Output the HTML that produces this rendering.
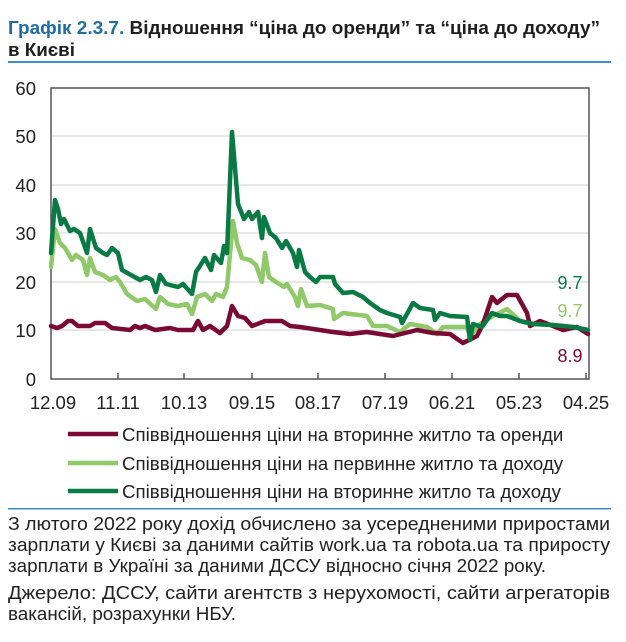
<!DOCTYPE html>
<html><head><meta charset="utf-8"><style>
body{margin:0;background:#fff;width:626px;height:637px;overflow:hidden;font-family:"Liberation Sans",sans-serif;}
</style></head><body>
<svg width="626" height="637" xmlns="http://www.w3.org/2000/svg" font-family="Liberation Sans, sans-serif">
<text x="8" y="34" font-size="18.8" font-weight="bold" fill="#1f1f1f" textLength="592" lengthAdjust="spacingAndGlyphs"><tspan fill="#1f6fa5">Графік 2.3.7.</tspan> Відношення “ціна до оренди” та “ціна до доходу”</text>
<text x="8" y="56" font-size="18.8" font-weight="bold" fill="#1f1f1f">в Києві</text>
<rect x="8" y="61" width="603" height="2" fill="#3a8fc4"/>
<g stroke="#d0d0d0" stroke-width="1">
<line x1="51" y1="136" x2="589" y2="136"/><line x1="51" y1="185" x2="589" y2="185"/><line x1="51" y1="233" x2="589" y2="233"/><line x1="51" y1="282" x2="589" y2="282"/><line x1="51" y1="330" x2="589" y2="330"/>
</g>
<rect x="51" y="88" width="538" height="291" fill="none" stroke="#555" stroke-width="1.5"/>
<g stroke="#555" stroke-width="1.5">
<line x1="118" y1="379" x2="118" y2="373"/><line x1="184" y1="379" x2="184" y2="373"/><line x1="252" y1="379" x2="252" y2="373"/><line x1="318" y1="379" x2="318" y2="373"/><line x1="385" y1="379" x2="385" y2="373"/><line x1="452" y1="379" x2="452" y2="373"/><line x1="519" y1="379" x2="519" y2="373"/><line x1="586" y1="379" x2="586" y2="373"/>
</g>
<g font-size="18.5" fill="#222" text-anchor="end">
<text x="36" y="95">60</text><text x="36" y="143">50</text><text x="36" y="192">40</text><text x="36" y="240">30</text><text x="36" y="289">20</text><text x="36" y="337">10</text><text x="36" y="386">0</text>
</g>
<g font-size="18.5" fill="#222" text-anchor="middle">
<text x="53" y="409">12.09</text><text x="118" y="409">11.11</text><text x="184" y="409">10.13</text><text x="252" y="409">09.15</text><text x="318" y="409">08.17</text><text x="385" y="409">07.19</text><text x="452" y="409">06.21</text><text x="519" y="409">05.23</text><text x="586" y="409">04.25</text>
</g>
<g fill="none" stroke-width="4.5" stroke-linejoin="round" stroke-linecap="round">
<polyline stroke="#8fc96a" points="51,267 55,229 60,243 65,248 72,260 76,255 83,260 87,275 90,258 95,272 103,275 110,280 116,277 120,282 127,294 137,301 145,299 156,309 160,297 168,304 178,306 187,304 192,314 197,297 205,294 212,301 216,294 223,297 227,287 233,221 237,243 242,258 250,260 256,265 262,282 265,253 269,277 276,282 284,287 287,284 295,297 298,306 301,289 307,306 320,305 333,309 334,319 343,313 367,316 373,326 387,326 400,332 410,324 427,327 437,334 443,327 467,327 470,336 480,324 493,316 507,309 520,321 533,324 553,325 573,327 588,330"/>
<polyline stroke="#7a0a32" points="51,326 57,328 62,326 68,321 72,321 78,326 90,326 95,323 105,323 112,328 130,330 135,326 140,328 145,326 155,330 170,328 178,330 193,330 198,321 203,330 210,326 220,333 227,326 232,306 238,316 245,318 252,326 265,321 282,321 290,326 300,327 333,332 350,334 367,332 393,336 417,330 433,333 450,334 463,343 477,336 483,324 492,297 497,303 507,295 517,295 527,313 530,326 540,321 553,326 563,330 577,327 588,334"/>
<polyline stroke="#0a7a45" points="51,253 55,200 58,209 61,224 64,219 70,231 74,229 80,233 87,253 90,229 96,248 103,253 107,255 112,248 118,253 122,270 131,275 140,280 146,277 152,280 156,292 160,275 166,284 178,287 183,284 192,294 196,272 205,258 211,270 214,255 221,263 224,246 227,253 232,132 238,204 244,219 249,212 252,219 258,212 262,238 264,217 270,233 276,238 282,248 286,241 293,253 297,267 299,250 305,272 310,277 316,282 320,277 333,277 335,284 343,293 353,292 363,297 370,303 380,310 387,313 400,317 402,323 413,303 420,308 433,310 435,320 440,313 450,316 467,317 470,340 473,324 482,327 492,313 500,316 507,316 520,321 533,324 553,325 573,327 588,330"/>
</g>
<g font-size="18" text-anchor="middle">
<text x="570" y="289" fill="#0a7a45">9.7</text><text x="570" y="317" fill="#8fc96a">9.7</text><text x="570" y="362" fill="#7a0a32">8.9</text>
</g>
<g stroke-width="4.5">
<line x1="68" y1="434" x2="118" y2="434" stroke="#7a0a32"/>
<line x1="68" y1="463" x2="118" y2="463" stroke="#8fc96a"/>
<line x1="68" y1="491" x2="118" y2="491" stroke="#0a7a45"/>
</g>
<g font-size="18.7" fill="#222">
<text x="122" y="441">Співвідношення ціни на вторинне житло та оренди</text>
<text x="122" y="470">Співвідношення ціни на первинне житло та доходу</text>
<text x="122" y="498">Співвідношення ціни на вторинне житло та доходу</text>
</g>
<rect x="8" y="508" width="603" height="1.5" fill="#3a8fc4"/>
<g font-size="18.3" fill="#222">
<text x="8" y="530" textLength="602" lengthAdjust="spacingAndGlyphs">З лютого 2022 року дохід обчислено за усередненими приростами</text>
<text x="8" y="551" textLength="602" lengthAdjust="spacingAndGlyphs">зарплати у Києві за даними сайтів work.ua та robota.ua та приросту</text>
<text x="8" y="572" textLength="538" lengthAdjust="spacingAndGlyphs">зарплати в Україні за даними ДССУ відносно січня 2022 року.</text>
<text x="8" y="599" textLength="602" lengthAdjust="spacingAndGlyphs">Джерело: ДССУ, сайти агентств з нерухомості, сайти агрегаторів</text>
<text x="8" y="620" textLength="228" lengthAdjust="spacingAndGlyphs">вакансій, розрахунки НБУ.</text>
</g>
</svg>
</body></html>
